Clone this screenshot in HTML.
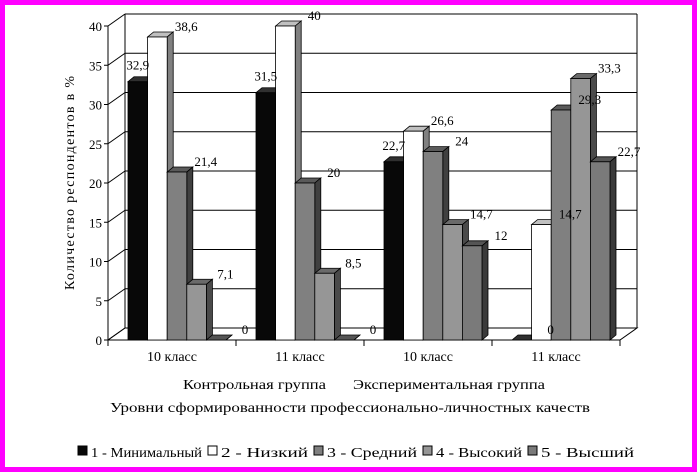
<!DOCTYPE html>
<html><head><meta charset="utf-8"><style>
html,body{margin:0;padding:0;background:#fff}
#wrap{width:697px;height:472px;box-sizing:border-box;border:5px solid #ff00ff;position:relative;overflow:hidden}
svg{position:absolute;left:-5px;top:-5px}
text{font-family:"Liberation Serif","DejaVu Serif",serif;fill:#000}
</style></head><body>
<div id="wrap">
<svg id="chart" width="697" height="472"></svg>
</div>
<script>
const categories=["10 класс","11 класс","10 класс","11 класс"];
const s1=[32.9,31.5,22.7,0];
const s2=[38.6,40,26.6,14.7];
const s3=[21.4,20,24,29.3];
const s4=[7.1,8.5,14.7,33.3];
const s5=[0,0,12,22.7];
const labels1=["32,9","31,5","22,7","0"];
const labels2=["38,6","40","26,6","14,7"];
const labels3=["21,4","20","24","29,3"];
const labels4=["7,1","8,5","14,7","33,3"];
const labels5=["0","0","12","22,7"];
const yTicks=[0,5,10,15,20,25,30,35,40];
const seriesNames=["1 - Минимальный","2 - Низкий","3 - Средний","4 - Высокий","5 - Высший"];
const series=[s1,s2,s3,s4,s5];
const seriesLabels=[labels1,labels2,labels3,labels4,labels5];
const fills=["#080808","#ffffff","#808080","#969696","#7a7a7a"];
const sideFills=["#000000","#808080","#404040","#4a4a4a","#3a3a3a"];
const topFills=["#303030","#c0c0c0","#5a5a5a","#6a6a6a","#555555"];

const NS="http://www.w3.org/2000/svg";
const svg=document.getElementById('chart');
const x0=108,x1=620,y0=340,scale=7.85,dx=17,dy=-12;
const catW=(x1-x0)/categories.length,barW=19.6,bdx=6,bdy=-5;
function y(v){return y0-v*scale;}
function mk(tag,attrs,parent){const e=document.createElementNS(NS,tag);for(const k in attrs)e.setAttribute(k,attrs[k]);(parent||svg).appendChild(e);return e;}

const wall=mk('g',{});


mk('polygon',{points:`${x0},${y0} ${x0+dx},${y0+dy} ${x1+dx},${y0+dy} ${x1},${y0}`,fill:'#fff',stroke:'#000','stroke-width':1},wall);
mk('line',{x1:x0+dx,y1:y(40)+dy,x2:x0+dx,y2:y0+dy,stroke:'#000'},wall);
mk('line',{x1:x1+dx,y1:y(40)+dy,x2:x1+dx,y2:y0+dy,stroke:'#000'},wall);
mk('line',{x1:x0,y1:y(40),x2:x0,y2:y0,stroke:'#000'},wall);
yTicks.forEach(t=>{
  const g=mk('line',{x1:x0,y1:y(t),x2:x0+dx,y2:y(t)+dy,stroke:'#000'});
  
  
  if(t>0){const h=mk('line',{x1:x0+dx,y1:y(t)+dy,x2:x1+dx,y2:y(t)+dy,stroke:'#000'});
  
  }
  mk('line',{x1:x0-4,y1:y(t),x2:x0,y2:y(t),stroke:'#000'});
  const tx=mk('text',{x:x0-6,y:y(t)+5,'text-anchor':'end','font-size':13});
  tx.textContent=t;
  
  
});
mk('line',{x1:x0,y1:y0,x2:x1,y2:y0,stroke:'#000'});
for(let i=0;i<=categories.length;i++){mk('line',{x1:x0+i*catW,y1:y0,x2:x0+i*catW,y2:y0+6,stroke:'#000'});}
categories.forEach((c,i)=>{
  const t=mk('text',{x:x0+catW*(i+0.5),y:y0+21,'text-anchor':'middle','font-size':14});
  t.textContent=c;
  
  
});
const labelQueue=[];
categories.forEach((c,i)=>{
  series.forEach((s,j)=>{
    const v=s[i];
    const bx=x0+catW*i+20+j*barW, by=y(v), bw=barW, bh=y0-by;
    const g=mk('g',{});
    
    
    mk('polygon',{points:`${bx},${by} ${bx+bdx},${by+bdy} ${bx+bw+bdx},${by+bdy} ${bx+bw},${by}`,fill:topFills[j],stroke:'#000','stroke-width':0.8},g);
    mk('polygon',{points:`${bx+bw},${by} ${bx+bw+bdx},${by+bdy} ${bx+bw+bdx},${y0+bdy} ${bx+bw},${y0}`,fill:sideFills[j],stroke:'#000','stroke-width':0.8},g);
    if(bh>0)mk('rect',{x:bx,y:by,width:bw,height:bh,fill:fills[j],stroke:'#000','stroke-width':0.8},g);
    if(j===0 && v>0) labelQueue.push([bx+bw/2, by-12, seriesLabels[j][i]]);
    else labelQueue.push([bx+bw+bdx+13, by-6, seriesLabels[j][i]]);
  });
});
labelQueue.forEach(l=>{
  const t=mk('text',{x:l[0],y:l[1],'text-anchor':'middle','font-size':13});
  t.textContent=l[2];
  
  
});
const yt=mk('text',{x:0,y:0,'text-anchor':'middle',transform:'translate(74,183) rotate(-90)','font-size':14,textLength:214,lengthAdjust:'spacing'});
yt.textContent='Количество респондентов в %';


const xt1=mk('text',{x:183,y:389,'font-size':14,textLength:143,lengthAdjust:'spacingAndGlyphs'});
xt1.textContent='Контрольная группа';


const xt2=mk('text',{x:353,y:389,'font-size':14,textLength:192,lengthAdjust:'spacingAndGlyphs'});
xt2.textContent='Экспериментальная  группа';


const xt3=mk('text',{x:110,y:412,'font-size':14,textLength:480,lengthAdjust:'spacingAndGlyphs'});
xt3.textContent='Уровни сформированности профессионально-личностных качеств';


const legX=[78,208,314,423,528];
const legEnd=[202,308,417,522,634];
seriesNames.forEach((n,j)=>{
  const g=mk('g',{});
  
  
  mk('rect',{x:legX[j],y:446,width:9,height:9,fill:fills[j],stroke:'#000'},g);
  const t=mk('text',{x:legX[j]+13,y:457,'font-size':14,textLength:legEnd[j]-legX[j]-13,lengthAdjust:'spacingAndGlyphs'},g);
  t.textContent=n;
});
</script>
</body></html>
